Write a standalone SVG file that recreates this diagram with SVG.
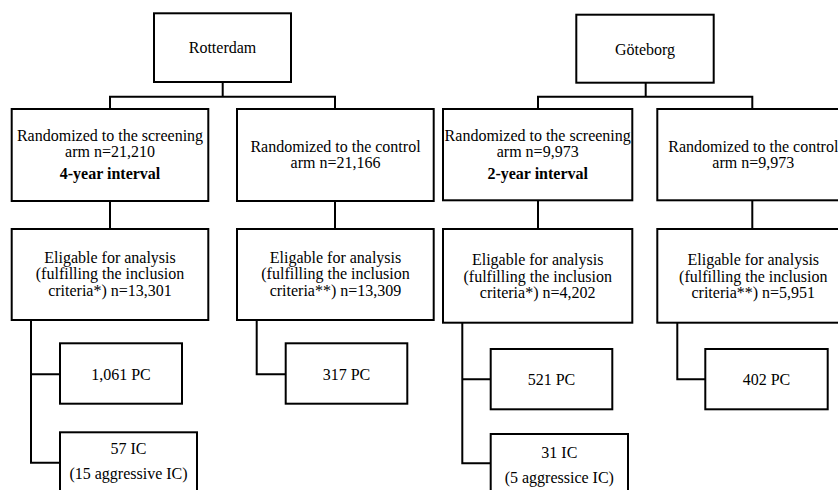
<svg xmlns="http://www.w3.org/2000/svg" width="838" height="490" viewBox="0 0 838 490">
<style>
.box{fill:#fff;stroke:#000;stroke-width:2}
.ln{fill:none;stroke:#000;stroke-width:2}
.t text{font-size:16px;fill:#000;text-anchor:middle}
.b{font-weight:bold}
</style>
<rect width="838" height="490" fill="#fff"/>
<g id="connectors">
<path class="ln" d="M222.7,82V96.7M110,109V96.7H335V109M110,201V229M335,201V229"/>
<path class="ln" d="M31,320V462.7H60M31,374.3H60M256.7,320V374.3H285.7"/>
<path class="ln" d="M645.7,82.7V96.7M538,109V96.7H752.3V109M538,200.3V229M752.3,200.3V229"/>
<path class="ln" d="M462.3,322.7V463.3H490.7M462.3,379.3H490.7M677.3,322.7V379.3H705.3"/>
</g>
<g class="t" font-family="'Liberation Serif', 'Times New Roman', Tinos, 'DejaVu Serif', serif">
<g id="rotterdam"><rect class="box" x="154" y="13.3" width="137" height="68.7"/><text x="222.5" y="52.5">Rotterdam</text></g>
<g id="r-screen"><rect class="box" x="11.7" y="109" width="196.6" height="92"/><text x="110" y="140.7">Randomized to the screening</text><text x="110" y="157.3">arm n=21,210</text><text class="b" x="110" y="179">4-year interval</text></g>
<g id="r-control"><rect class="box" x="237" y="109" width="196.7" height="92"/><text x="335.5" y="151.7">Randomized to the control</text><text x="335.5" y="168.3">arm n=21,166</text></g>
<g id="r-elig-s"><rect class="box" x="11.7" y="229" width="196.6" height="91"/><text x="110" y="262.7">Eligable for analysis</text><text x="110" y="279.3">(fulfilling the inclusion</text><text x="110" y="295.7">criteria*) n=13,301</text></g>
<g id="r-elig-c"><rect class="box" x="237" y="229" width="196.7" height="91"/><text x="335.5" y="262.7">Eligable for analysis</text><text x="335.5" y="279.3">(fulfilling the inclusion</text><text x="335.5" y="295.7">criteria**) n=13,309</text></g>
<g id="r-pc"><rect class="box" x="60" y="343.3" width="122" height="60.4"/><text x="121" y="379.5">1,061 PC</text></g>
<g id="r-ic"><rect class="box" x="60" y="432.3" width="137" height="70"/><text x="128.5" y="454">57 IC</text><text x="128.5" y="479.3">(15 aggressive IC)</text></g>
<g id="r-cpc"><rect class="box" x="285.7" y="343.3" width="121.6" height="60.4"/><text x="346.5" y="379.5">317 PC</text></g>
<g id="goteborg"><rect class="box" x="576.3" y="14.7" width="137.4" height="68"/><text x="645" y="54.5">Göteborg</text></g>
<g id="g-screen"><rect class="box" x="443" y="109" width="189.3" height="91.3"/><text x="537.7" y="140.7">Randomized to the screening</text><text x="537.7" y="157.3">arm n=9,973</text><text class="b" x="537.7" y="179">2-year interval</text></g>
<g id="g-control"><rect class="box" x="657.3" y="109" width="192" height="91.3"/><text x="753.3" y="151.7">Randomized to the control</text><text x="753.3" y="168.3">arm n=9,973</text></g>
<g id="g-elig-s"><rect class="box" x="443" y="229" width="189.3" height="93.7"/><text x="537.7" y="265">Eligable for analysis</text><text x="537.7" y="281.7">(fulfilling the inclusion</text><text x="537.7" y="298">criteria*) n=4,202</text></g>
<g id="g-elig-c"><rect class="box" x="657.3" y="229" width="192" height="93.7"/><text x="753.3" y="265">Eligable for analysis</text><text x="753.3" y="281.7">(fulfilling the inclusion</text><text x="753.3" y="298">criteria**) n=5,951</text></g>
<g id="g-pc"><rect class="box" x="490.7" y="349" width="121.6" height="60.3"/><text x="551.5" y="385">521 PC</text></g>
<g id="g-ic"><rect class="box" x="490.7" y="434" width="137.3" height="70"/><text x="559.3" y="458">31 IC</text><text x="559.3" y="483">(5 aggressice IC)</text></g>
<g id="g-cpc"><rect class="box" x="705.3" y="349" width="122.4" height="60.3"/><text x="766.5" y="385">402 PC</text></g>
</g>
</svg>
